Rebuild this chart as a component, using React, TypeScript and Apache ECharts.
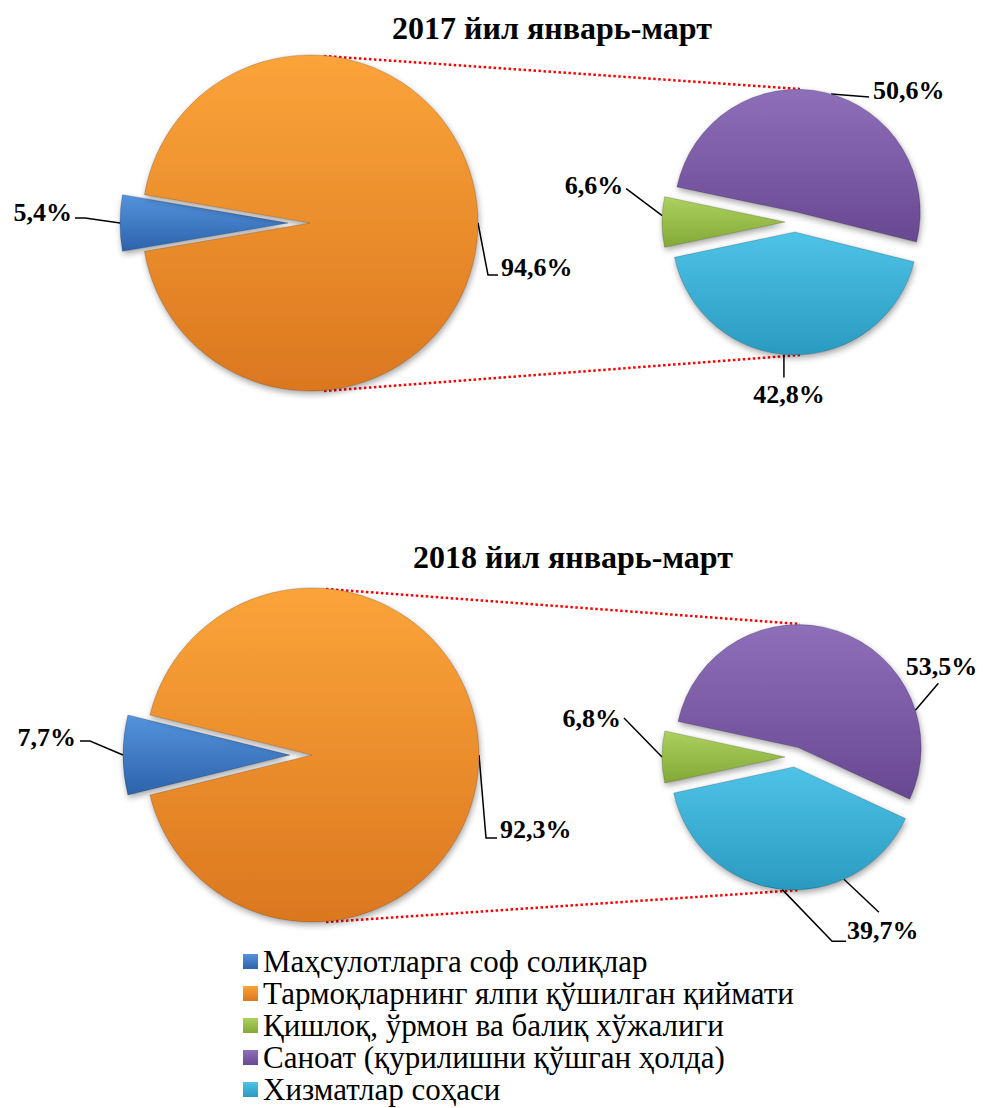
import React, { useEffect, useRef } from 'react';
import * as echarts from 'echarts';

// ---------- data ----------
const categories = [
  'Маҳсулотларга соф солиқлар',
  'Тармоқларнинг ялпи қўшилган қиймати',
  'Қишлоқ, ўрмон ва балиқ хўжалиги',
  'Саноат (қурилишни қўшган ҳолда)',
  'Хизматлар соҳаси',
];
const periodTitles = ['2017 йил январь-март', '2018 йил январь-март'];
const mainValues2017 = [5.4, 94.6]; // categories 0,1
const subValues2017 = [6.6, 50.6, 42.8]; // categories 2,3,4
const mainValues2018 = [7.7, 92.3];
const subValues2018 = [6.8, 53.5, 39.7];

// ---------- styles / layout ----------
const SERIF = 'Liberation Serif';
const sliceColors = [
  ['#5593DD', '#2C63AB'],
  ['#FBA43A', '#DB771F'],
  ['#ADD05E', '#82A836'],
  ['#8E6FB9', '#684891'],
  ['#4EC3E7', '#2A9AC0'],
];

type LabelSpec = {
  da: number;
  pts: number[][];
  off: number[];
  align: string;
  extra?: { da: number; pts: number[][] };
};
type PieLayout = { c: number[]; r: number; explode: number[]; labels: LabelSpec[] };

const rows: {
  title: string;
  titlePos: number[];
  main: number[];
  sub: number[];
  big: PieLayout;
  small: PieLayout;
}[] = [
  {
    title: periodTitles[0],
    titlePos: [552, 28],
    main: mainValues2017,
    sub: subValues2017,
    big: {
      c: [310, 223],
      r: 168,
      explode: [22, 0],
      labels: [
        { da: 0, pts: [[-35, -5], [-45, -5]], off: [-3, -6], align: 'right' },
        { da: 0, pts: [[10, 52], [20, 52]], off: [3, -8], align: 'left' },
      ],
    },
    small: {
      c: [795, 222],
      r: 123,
      explode: [10, 10, 10],
      labels: [
        { da: -3, pts: [[-36, -27]], off: [-3, -3], align: 'right' },
        { da: -3, pts: [[38, 3]], off: [4, -6], align: 'left' },
        { da: -4, pts: [[0, 23]], off: [5, 17], align: 'center' },
      ],
    },
  },
  {
    title: periodTitles[1],
    titlePos: [573, 557],
    main: mainValues2018,
    sub: subValues2018,
    big: {
      c: [312, 755],
      r: 167,
      explode: [22, 0],
      labels: [
        { da: 0, pts: [[-33, -14], [-43, -14]], off: [-4, -4], align: 'right' },
        { da: 0, pts: [[7, 83], [18, 83]], off: [3, -9], align: 'left' },
      ],
    },
    small: {
      c: [795, 757],
      r: 123,
      explode: [10, 10, 10],
      labels: [
        { da: 0, pts: [[-38, -39]], off: [-3, 0], align: 'right' },
        { da: -53.8, pts: [[23, -27]], off: [3, -17], align: 'center' },
        {
          da: 0.8,
          pts: [[50, 52], [64, 52]],
          off: [1, -11],
          align: 'left',
          extra: { da: 30.3, pts: [[35, 33]] },
        },
      ],
    },
  },
];

const DEG = Math.PI / 180;
const polar = (cx: number, cy: number, r: number, a: number) => [
  cx + r * Math.cos(a * DEG),
  cy - r * Math.sin(a * DEG),
];

function sliceAngles(values: number[], startAngle: number) {
  const total = values.reduce((s, v) => s + v, 0);
  let a = startAngle;
  return values.map((v) => {
    const span = (v / total) * 360;
    const s = a;
    a -= span;
    return { start: s, end: a, mid: (s + a) / 2 };
  });
}

const fmt = (v: number) => v.toFixed(1).replace('.', ',') + '%';

const labelText = {
  fontFamily: SERIF,
  fontWeight: 'bold' as const,
  fontSize: 26,
  color: '#000',
};

function buildPie(values: number[], catOffset: number, lay: PieLayout, graphics: any[]) {
  const total = values.reduce((s, v) => s + v, 0);
  const startAngle = 180 + ((values[0] / total) * 360) / 2;
  const angs = sliceAngles(values, startAngle);
  return values.map((_, i) => {
    const mid = angs[i].mid;
    const off = lay.explode[i];
    const cx = lay.c[0] + off * Math.cos(mid * DEG);
    const cy = lay.c[1] - off * Math.sin(mid * DEG);
    const spec = lay.labels[i];
    const col = sliceColors[catOffset + i];
    if (spec.extra) {
      const [ex, ey] = polar(cx, cy, lay.r, mid + spec.extra.da);
      graphics.push({
        type: 'polyline',
        silent: true,
        z: 10,
        shape: { points: [[ex, ey], ...spec.extra.pts.map(([dx, dy]) => [ex + dx, ey + dy])] },
        style: { stroke: '#000', lineWidth: 1.5, fill: null },
      });
    }
    return {
      type: 'pie',
      radius: lay.r,
      center: [cx, cy],
      startAngle,
      clockwise: true,
      avoidLabelOverlap: false,
      silent: true,
      animation: false,
      emphasis: { disabled: true },
      label: {
        show: true,
        position: 'outside',
        formatter: (p: any) => fmt(p.value),
        ...labelText,
      },
      labelLine: { show: true, lineStyle: { color: '#000', width: 1.5 } },
      labelLayout: (p: any) => {
        if (p.dataIndex !== i) return {};
        const [ax, ay] = polar(cx, cy, lay.r, mid + spec.da);
        const pts = [[ax, ay], ...spec.pts.map(([dx, dy]) => [ax + dx, ay + dy])];
        const end = pts[pts.length - 1];
        return {
          x: end[0] + spec.off[0],
          y: end[1] + spec.off[1],
          align: spec.align,
          verticalAlign: 'middle',
          labelLinePoints: pts,
        };
      },
      data: values.map((v, j) =>
        j === i
          ? {
              name: categories[catOffset + j],
              value: v,
              label: { ...labelText },
              itemStyle: {
                color: {
                  type: 'linear',
                  x: 0,
                  y: 0,
                  x2: 0,
                  y2: 1,
                  colorStops: [
                    { offset: 0, color: col[0] },
                    { offset: 1, color: col[1] },
                  ],
                },
                borderColor: 'rgba(0,0,0,0.18)',
                borderWidth: 1,
                shadowColor: 'rgba(0,0,0,0.35)',
                shadowBlur: 6,
                shadowOffsetX: 1,
                shadowOffsetY: 3,
              },
            }
          : {
              name: 'filler',
              value: v,
              itemStyle: { color: 'rgba(0,0,0,0)', borderWidth: 0, shadowBlur: 0 },
              label: { show: false },
              labelLine: { show: false },
            }
      ),
    };
  });
}

export default function App() {
  const ref = useRef<HTMLDivElement>(null);
  useEffect(() => {
    document.body.style.margin = '0';
    if (!ref.current) return;
    const chart = echarts.init(ref.current, undefined, { renderer: 'svg' });
    const graphics: any[] = [];
    const series: any[] = [];
    rows.forEach((row) => {
      series.push(...buildPie(row.main, 0, row.big, graphics));
      series.push(...buildPie(row.sub, 2, row.small, graphics));
      graphics.push({
        type: 'text',
        x: row.titlePos[0],
        y: row.titlePos[1],
        silent: true,
        z: 10,
        style: {
          text: row.title,
          align: 'center',
          verticalAlign: 'middle',
          fontFamily: SERIF,
          fontWeight: 'bold',
          fontSize: 32,
          fill: '#000',
        },
      });
      // red dotted connectors (top and bottom)
      const b = row.big;
      const s = row.small;
      [
        [b.c[0] + 14, b.c[1] - b.r + 1, s.c[0] + 5, s.c[1] - s.r - 10],
        [b.c[0] + 14, b.c[1] + b.r, s.c[0] + 5, s.c[1] + s.r + 10],
      ].forEach(([x1, y1, x2, y2]) =>
        graphics.push({
          type: 'line',
          silent: true,
          z: 0,
          shape: { x1, y1, x2, y2 },
          style: { stroke: '#FF0000', lineWidth: 2.5, lineDash: [2.5, 2.5] },
        })
      );
    });
    chart.setOption({
      animation: false,
      backgroundColor: '#fff',
      textStyle: { fontFamily: SERIF },
      legend: {
        data: categories,
        orient: 'vertical',
        left: 243,
        top: 946,
        width: 600,
        height: 200,
        padding: 0,
        itemWidth: 15,
        itemHeight: 15,
        itemGap: 1,
        selectedMode: false,
        icon: 'rect',
        itemStyle: { borderWidth: 0, shadowBlur: 0 },
        textStyle: { fontFamily: SERIF, fontSize: 31, lineHeight: 31, color: '#000' },
      },
      graphic: { elements: graphics },
      series,
    });
    return () => chart.dispose();
  }, []);
  return <div ref={ref} style={{ width: 983, height: 1108 }} />;
}
